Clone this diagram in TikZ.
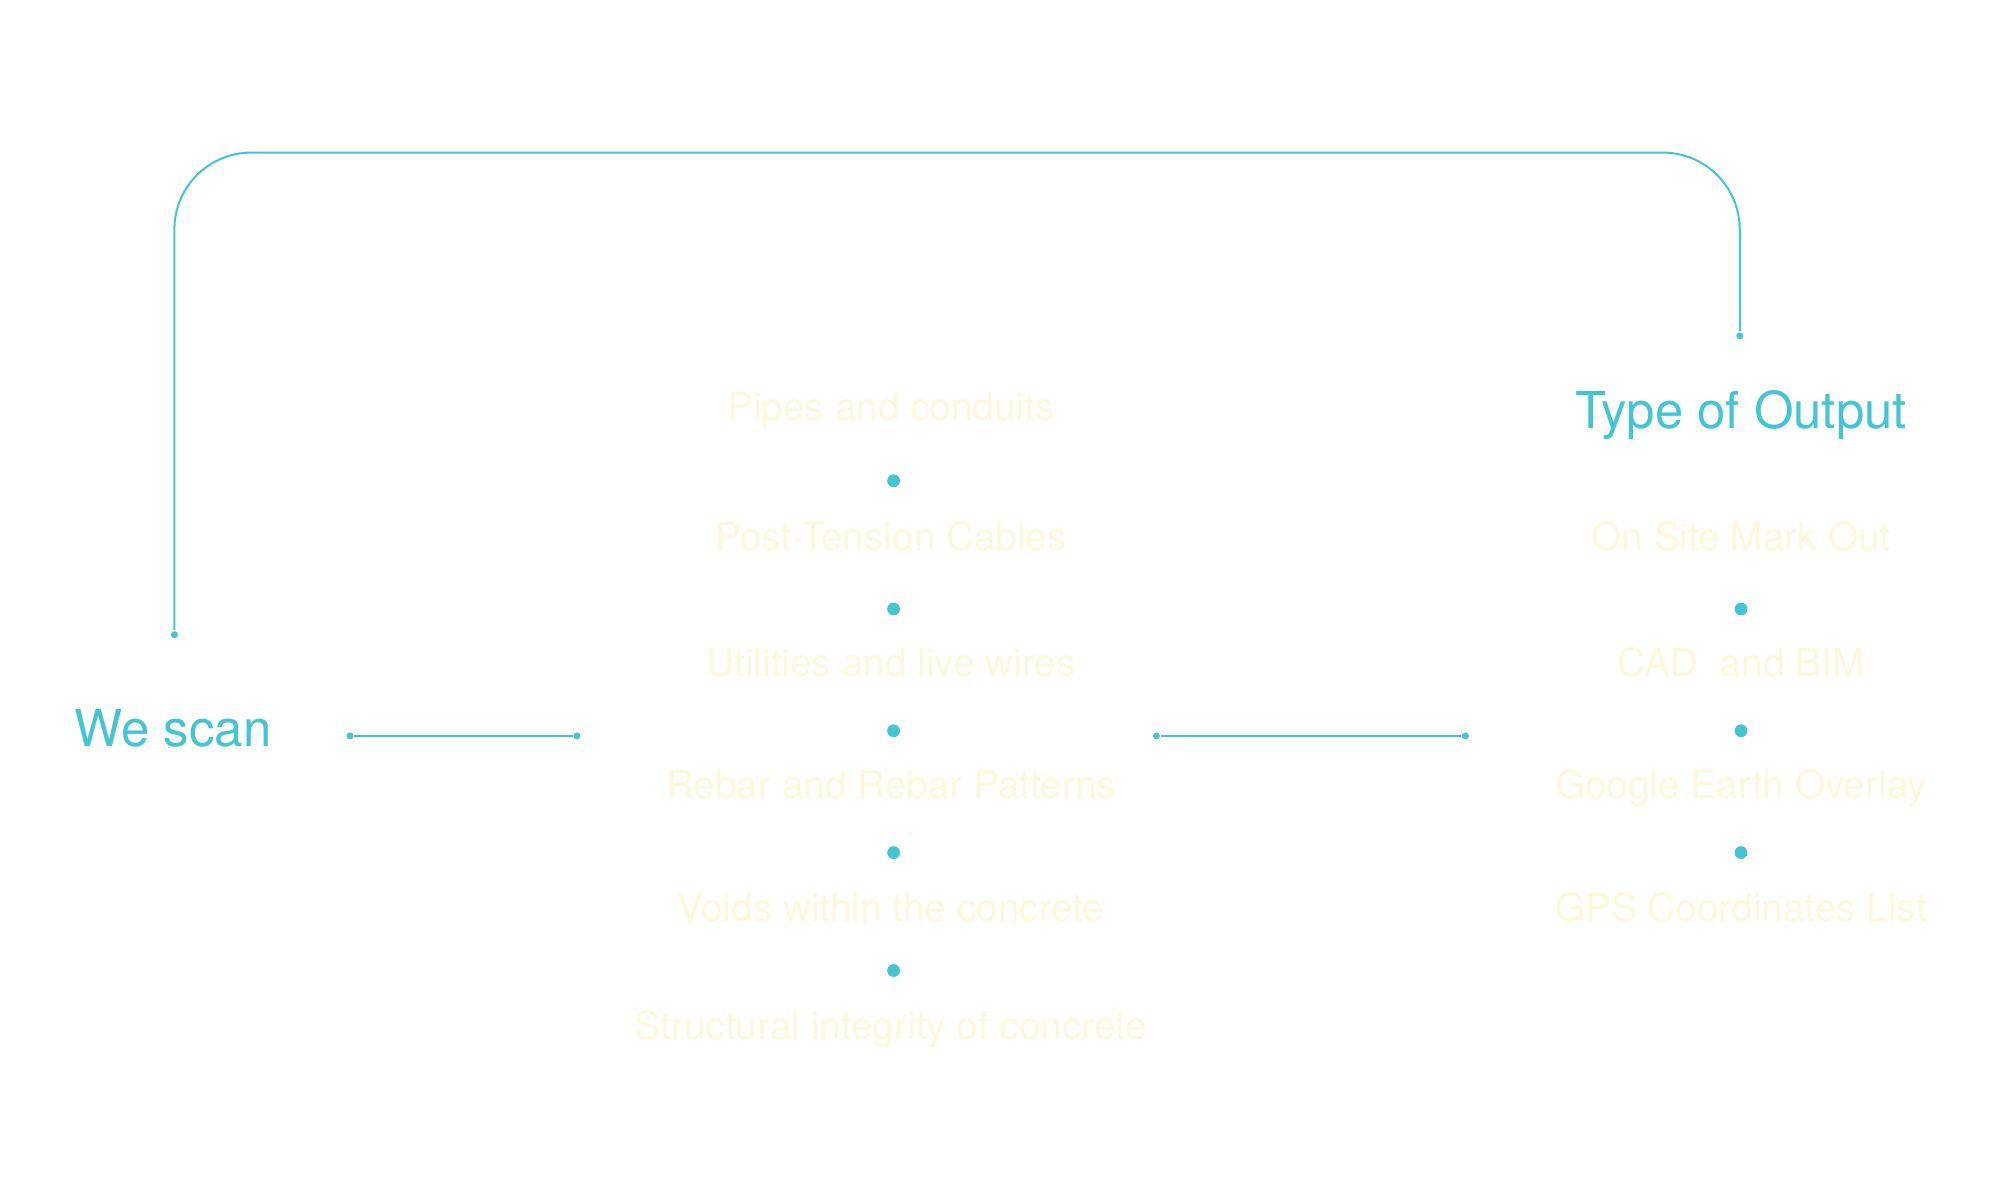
\documentclass[tikz,border=0pt]{standalone}
\usepackage{fontspec}
\setmainfont{TeX Gyre Heros}
\usetikzlibrary{positioning}

\definecolor{scanteal}{RGB}{69,196,212}
\definecolor{itemcream}{RGB}{253,248,218}

\tikzset{
  heading/.style={text=scanteal, font=\fontsize{11.3}{13}\selectfont, inner sep=0pt, anchor=base},
  item/.style={text=itemcream, font=\fontsize{8.6}{10}\selectfont, inner sep=0pt, anchor=base},
  bullet/.style={circle, fill=scanteal, inner sep=0pt, minimum size=1mm},
  tip/.style={circle, fill=scanteal, inner sep=0pt, minimum size=0.55mm},
  wire/.style={draw=scanteal, line width=0.45pt},
}

\begin{document}
\begin{tikzpicture}[x=0.1mm, y=-0.1mm]
\useasboundingbox (0,0) rectangle (1560,936);

\pgfmathsetmacro{\xs}{697};
\pgfmathsetmacro{\xo}{1358};
\pgfmathsetmacro{\ytop}{119};

% headings
\node[heading] (scan) at (135,582) {We scan};
\node[heading] (output) at (\xo,334) {Type of Output};

% what we scan
\foreach \y/\txt [count=\i] in {318/Pipes and conduits, 419/Post-Tension Cables,
    518/Utilities and live wires, 613/Rebar and Rebar Patterns,
    709/Voids within the concrete, 801/Structural integrity of concrete}
  \node[item] (found\i) at (\xs-2,\y+10) {\txt};
\foreach \y [count=\i] in {375,475,570,665,757}
  \node[bullet] (fdot\i) at (\xs,\y) {};

% outputs
\foreach \y/\txt [count=\i] in {419/On Site Mark Out, 518/CAD~\ and BIM,
    613/Google Earth Overlay, 709/GPS Coordinates List}
  \node[item] (out\i) at (\xo,\y+10) {\txt};
\foreach \y [count=\i] in {475,570,665}
  \node[bullet] (odot\i) at (\xo,\y) {};

% connectors
\node[tip] (la) at (273,574) {};
\node[tip] (lb) at (450,574) {};
\node[tip] (ra) at (902,574) {};
\node[tip] (rb) at (1143,574) {};
\draw[wire] (la) -- (lb);
\draw[wire] (ra) -- (rb);

% loop back
\node[tip] (back) at (136,495) {};
\node[tip] (up) at (1357,262) {};
\draw[wire, rounded corners=6mm] (back) -- (back |- 0,\ytop) -- (up |- 0,\ytop) -- (up);
\end{tikzpicture}
\end{document}
